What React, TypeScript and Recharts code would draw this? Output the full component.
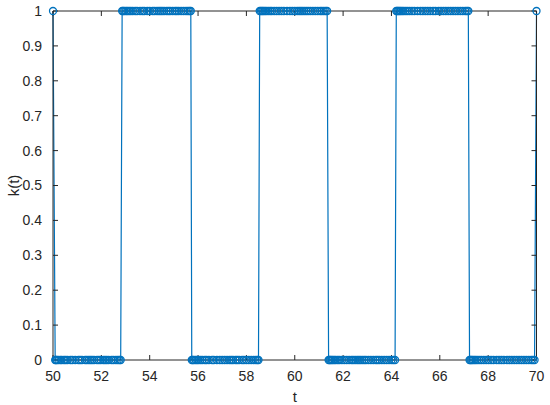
import { LineChart, Line, XAxis, YAxis, Label } from 'recharts'

// sample times of k(t), one list per constant stretch
const seg0 = [50]
const seg1 = [50.09, 50.12, 50.16, 50.22, 50.3, 50.36, 50.45, 50.52, 50.6, 50.72, 50.8, 50.92, 51.05, 51.12, 51.2, 51.33, 51.4, 51.48, 51.55, 51.62, 51.7, 51.82, 51.9, 51.98, 52.08, 52.15, 52.22, 52.3, 52.42, 52.5, 52.6, 52.68, 52.75, 52.8]
const seg2 = [52.86, 52.9, 52.95, 53.02, 53.08, 53.15, 53.22, 53.3, 53.4, 53.48, 53.6, 53.7, 53.78, 53.9, 54.0, 54.12, 54.2, 54.3, 54.38, 54.45, 54.52, 54.6, 54.7, 54.78, 54.85, 54.95, 55.05, 55.12, 55.2, 55.3, 55.4, 55.5, 55.58, 55.65, 55.7]
const seg3 = [55.74, 55.78, 55.83, 55.9, 55.96, 56.02, 56.1, 56.18, 56.28, 56.35, 56.45, 56.58, 56.65, 56.78, 56.9, 57.0, 57.1, 57.2, 57.3, 57.38, 57.45, 57.55, 57.62, 57.7, 57.82, 57.9, 58.0, 58.1, 58.2, 58.3, 58.38, 58.45, 58.5]
const seg4 = [58.55, 58.6, 58.65, 58.7, 58.76, 58.82, 58.9, 58.98, 59.05, 59.15, 59.25, 59.35, 59.45, 59.55, 59.68, 59.8, 59.9, 60.0, 60.1, 60.18, 60.25, 60.32, 60.4, 60.48, 60.56, 60.65, 60.75, 60.85, 60.95, 61.05, 61.12, 61.2, 61.28, 61.34]
const seg5 = [61.4, 61.44, 61.48, 61.53, 61.58, 61.64, 61.7, 61.78, 61.85, 61.95, 62.05, 62.15, 62.25, 62.35, 62.42, 62.5, 62.58, 62.65, 62.72, 62.8, 62.88, 62.95, 63.05, 63.15, 63.25, 63.35, 63.42, 63.5, 63.6, 63.7, 63.8, 63.9, 64.0, 64.08, 64.15]
const seg6 = [64.2, 64.24, 64.28, 64.33, 64.38, 64.44, 64.5, 64.58, 64.66, 64.75, 64.85, 64.95, 65.08, 65.2, 65.3, 65.4, 65.5, 65.6, 65.72, 65.82, 65.95, 66.05, 66.15, 66.25, 66.35, 66.45, 66.55, 66.65, 66.75, 66.85, 66.95, 67.05, 67.12, 67.18]
const seg7 = [67.23, 67.27, 67.31, 67.36, 67.42, 67.48, 67.55, 67.63, 67.72, 67.82, 67.92, 68.02, 68.12, 68.22, 68.35, 68.45, 68.55, 68.65, 68.78, 68.88, 68.98, 69.08, 69.18, 69.28, 69.38, 69.48, 69.58, 69.68, 69.78, 69.85, 69.92]
const seg8 = [70]

const segments = [seg0, seg1, seg2, seg3, seg4, seg5, seg6, seg7, seg8]
const levels = [1, 0, 1, 0, 1, 0, 1, 0, 1]

const xTicks = [50, 52, 54, 56, 58, 60, 62, 64, 66, 68, 70]
const yTicks = [0, 0.1, 0.2, 0.3, 0.4, 0.5, 0.6, 0.7, 0.8, 0.9, 1]

const data = segments.flatMap((seg, i) => seg.map((t) => ({ t, k: levels[i] })))

const BLUE = '#0072BD'
const AXIS = '#262626'
const FONT = '"Liberation Sans", Arial, sans-serif'

const tickStyle = { fill: AXIS, fontSize: 14, fontFamily: FONT }

const YLabel = (props: any) => {
    const vb = props.viewBox
    const cy = vb.y + vb.height / 2
    return (
        <text x={13} y={cy} transform={`rotate(-90, 13, ${cy})`} textAnchor="middle" dominantBaseline="central"
            fill={AXIS} fontSize={15} fontFamily={FONT}>k(t)</text>
    )
}

const XLabel = (props: any) => {
    const vb = props.viewBox
    const cx = vb.x + vb.width / 2
    return (
        <text x={cx} y={396} textAnchor="middle" dominantBaseline="central"
            fill={AXIS} fontSize={15} fontFamily={FONT}>t</text>
    )
}

export default function App() {
    return (
        <div style={{ position: 'absolute', left: 0, top: 0, background: '#fff' }}>
            <LineChart width={550} height={405} data={data} margin={{ top: 10, right: 12.5, left: 0, bottom: 0 }}>
                <XAxis
                    dataKey="t"
                    type="number"
                    domain={[50, 70]}
                    ticks={xTicks}
                    height={45}
                    stroke={AXIS}
                    tickSize={-5}
                    tickMargin={16}
                    tick={tickStyle}
                >
                    <Label content={XLabel} />
                </XAxis>
                <XAxis
                    xAxisId="top"
                    orientation="top"
                    dataKey="t"
                    type="number"
                    domain={[50, 70]}
                    ticks={xTicks}
                    allowDataOverflow
                    height={1}
                    stroke={AXIS}
                    tickSize={-5}
                    tickFormatter={() => ''}
                />
                <YAxis
                    type="number"
                    domain={[0, 1]}
                    ticks={yTicks}
                    width={53}
                    stroke={AXIS}
                    tickSize={-5}
                    tickMargin={16}
                    tick={tickStyle}
                    tickFormatter={(v: number) => String(Math.round(v * 10) / 10)}
                >
                    <Label content={YLabel} />
                </YAxis>
                <YAxis
                    yAxisId="right"
                    orientation="right"
                    type="number"
                    domain={[0, 1]}
                    ticks={yTicks}
                    allowDataOverflow
                    width={1}
                    stroke={AXIS}
                    tickSize={-5}
                    tickFormatter={() => ''}
                />
                <Line
                    dataKey="k"
                    type="linear"
                    stroke={BLUE}
                    strokeWidth={1.2}
                    dot={{ r: 3.5, fill: 'none', stroke: BLUE, strokeWidth: 1.3 }}
                    isAnimationActive={false}
                />
            </LineChart>
        </div>
    )
}
